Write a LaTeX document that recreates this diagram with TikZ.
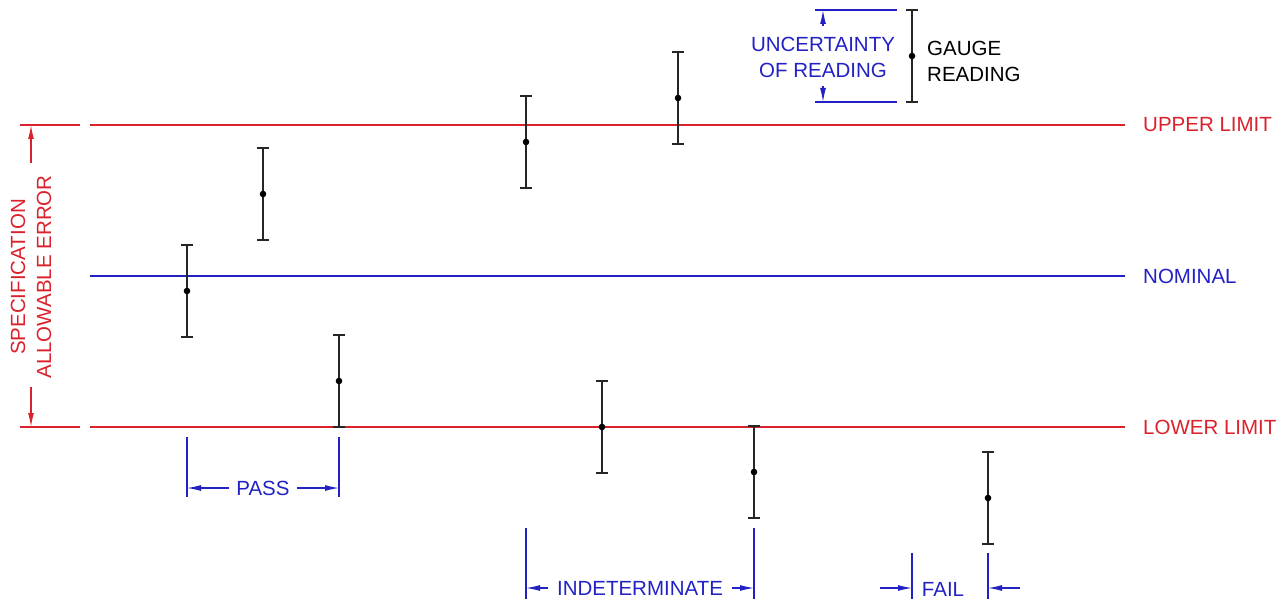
\documentclass[tikz,border=0pt]{standalone}
\usepackage{fontspec}
\setmainfont{Liberation Sans}
\usepackage{tikz}
\usetikzlibrary{positioning, arrows.meta, calc}

\definecolor{limitred}{RGB}{218,34,44}
\definecolor{dimblue}{RGB}{34,34,196}

\tikzset{
    lbl/.style={font=\fontsize{20.5}{26}\selectfont, inner sep=0pt},
    limit/.style={limitred, line width=1.3pt},
    nominal/.style={dimblue, line width=1.3pt},
    bar/.style={black!85, line width=1.3pt},
    dim/.style={dimblue, line width=1.2pt},
    dimtip/.style={-{Latex[length=14pt,width=6pt]}},
}

\begin{document}
\begin{tikzpicture}[x=1pt, y=-1pt]
    \useasboundingbox (0,0) rectangle (1287,599);

    \coordinate (ul) at (90,125);
    \coordinate (nl) at (90,276);
    \coordinate (ll) at (90,427);

    % limit lines and labels
    \node[lbl, anchor=west, text=limitred] (upper) at (1143,125) {UPPER LIMIT};
    \node[lbl, anchor=west, text=dimblue] (nominal) at (1143,276) {NOMINAL};
    \node[lbl, anchor=west, text=limitred] (lower) at (1143,427) {LOWER LIMIT};
    \draw[limit] (ul) -- ([xshift=-18pt]upper.west);
    \draw[nominal] (nl) -- ([xshift=-18pt]nominal.west);
    \draw[limit] (ll) -- ([xshift=-18pt]lower.west);

    % specification dimension
    \draw[limit] (20,125) coordinate (st) -- (80,125);
    \draw[limit] (20,427) coordinate (sb) -- (80,427);
    \node[lbl, text=limitred, rotate=90, align=center] (spec) at (31,277)
        {SPECIFICATION\\ALLOWABLE ERROR};
    \draw[limit, dimtip] (31,163) -- (31,125);
    \draw[limit, dimtip] (31,387) -- (31,427);

    % gauge readings
    \foreach \n/\x/\y in {
        1/187/291,
        2/263/194,
        3/339/381,
        4/526/142,
        5/678/98,
        6/602/427,
        7/754/472,
        8/988/498,
        9/912/56}{

        \coordinate (g\n) at (\x,\y);
        \draw[bar] ([yshift=46pt]g\n) -- ([yshift=-46pt]g\n);
        \draw[bar] ([xshift=-6pt,yshift=46pt]g\n) -- ([xshift=6pt,yshift=46pt]g\n);
        \draw[bar] ([xshift=-6pt,yshift=-46pt]g\n) -- ([xshift=6pt,yshift=-46pt]g\n);
        \fill (g\n) circle (3.3pt);
    }

    % legend
    \node[lbl, text=dimblue, align=center] (unc) at (823,57) {UNCERTAINTY\\OF READING};
    \node[lbl, anchor=west, align=left] (gauge) at (927,61) {GAUGE\\READING};
    \draw[dim] (815,10) coordinate (ut) -- (897,10);
    \draw[dim] (815,102) coordinate (ub) -- (897,102);
    \draw[dim, dimtip] (823,26) -- (823,10);
    \draw[dim, dimtip] (823,86) -- (823,102);

    % pass
    \draw[dim] (187,437) -- (187,497) coordinate (p1);
    \draw[dim] (339,437) -- (339,497) coordinate (p2);
    \node[lbl, text=dimblue, inner xsep=7pt] (pass) at (263,488) {PASS};
    \draw[dim, dimtip] (pass.west) -- (187,488);
    \draw[dim, dimtip] (pass.east) -- (339,488);

    % indeterminate
    \draw[dim] (526,528) -- (526,599);
    \draw[dim] (754,528) -- (754,599);
    \node[lbl, text=dimblue, inner xsep=9pt] (indet) at (640,588) {INDETERMINATE};
    \draw[dim, dimtip] (indet.west) -- (526,588);
    \draw[dim, dimtip] (indet.east) -- (754,588);

    % fail
    \draw[dim] (912,553) -- (912,599);
    \draw[dim] (988,553) -- (988,599);
    \node[lbl, text=dimblue] (fail) at (943,589) {FAIL};
    \draw[dim, dimtip] (880,588) -- (912,588);
    \draw[dim, dimtip] (1020,588) -- (988,588);
\end{tikzpicture}
\end{document}
